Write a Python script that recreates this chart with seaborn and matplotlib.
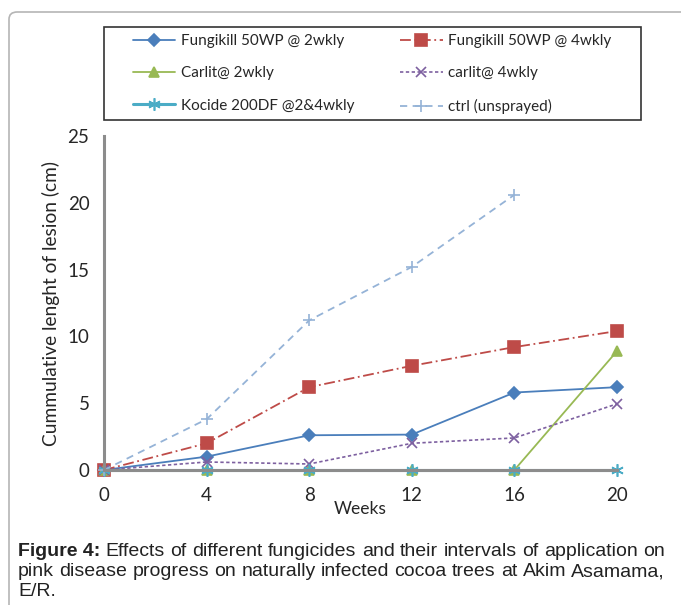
import matplotlib
matplotlib.use('Agg')
import numpy as np
import pandas as pd
import seaborn as sns
import matplotlib.pyplot as plt
from matplotlib.patches import FancyBboxPatch, Rectangle

# datos
weeks = [0, 4, 8, 12, 16, 20]
fungikill_2wk = [0, 1.0, 2.6, 2.65, 5.8, 6.2]
fungikill_4wk = [0, 2.0, 6.2, 7.8, 9.2, 10.4]
carlit_2wk = [0, 0, 0, 0, 0, 8.9]
carlit_4wk = [0, 0.6, 0.45, 2.0, 2.4, 4.95]
kocide = [0, 0, 0, 0, 0, 0]
ctrl = [0, 3.8, 11.2, 15.2, 20.6, np.nan]

series = [
    ("Fungikill 50WP @ 2wkly", fungikill_2wk, "#4A7EBB", "-", "D", 6, 1.3),
    ("Fungikill 50WP @ 4wkly", fungikill_4wk, "#BE4B48", (0, (6, 2, 1, 2)), "s", 8, 1.3),
    ("Carlit@ 2wkly", carlit_2wk, "#98B954", "-", "^", 7, 1.3),
    ("carlit@ 4wkly", carlit_4wk, "#7D60A0", (0, (2, 1.5)), "x", 7, 1.2),
    ("Kocide 200DF @2&4wkly", kocide, "#4BACC6", "-", (6, 2, 0), 9, 2.2),
    ("ctrl (unsprayed)", ctrl, "#95B3D7", (0, (4, 3)), "+", 9, 1.3),
]

sns.set_style("white")
plt.rcParams['font.family'] = ['Lato', 'DejaVu Sans']

fig = plt.figure(figsize=(6.81, 6.05), dpi=100)
ax = fig.add_axes([104 / 681, 1 - 470 / 605, 513 / 681, 334 / 605])

# marco exterior redondeado
marco = FancyBboxPatch((9 / 681, -0.1), 1.0, 1.1 - 12 / 605, transform=fig.transFigure,
                       boxstyle="round,pad=0,rounding_size=0.012", fc="none",
                       ec="#b5b5b5", lw=1.2, zorder=0)
fig.patches.append(marco)

for name, vals, col, ls, mk, ms, lw in series:
    df = pd.DataFrame({"x": weeks, "y": vals}).dropna()
    sns.lineplot(data=df, x="x", y="y", ax=ax, color=col, linestyle=ls, lw=lw,
                 marker=mk, markersize=ms, markeredgecolor=col, markerfacecolor=col,
                 markeredgewidth=1.2, label=name, clip_on=False, legend=False)

ax.set_xlim(0, 20)
ax.set_ylim(0, 25)
ax.set_xticks(weeks)
ax.set_yticks([0, 5, 10, 15, 20, 25])
for s in ["top", "right"]:
    ax.spines[s].set_visible(False)
ax.spines["left"].set_color("#8c8c8c")
ax.spines["left"].set_linewidth(2.2)
ax.spines["bottom"].set_color("#8c8c8c")
ax.spines["bottom"].set_linewidth(2.2)
ax.tick_params(axis="y", direction="inout", length=9, width=2, color="#8c8c8c",
               labelsize=13.5, pad=6)
ax.tick_params(axis="x", direction="out", length=5, width=2, color="#8c8c8c",
               labelsize=13.5, pad=7)
ax.set_xlabel("Weeks", fontsize=12.5, labelpad=-2)
ax.set_ylabel("Cummulative lenght of lesion (cm)", fontsize=13.8, labelpad=5)

# leyenda con marco dibujado aparte
caja = Rectangle((104 / 681, 1 - 120 / 605), 537 / 681, 93 / 605, transform=fig.transFigure,
                 fc="white", ec="#333333", lw=1.2, zorder=1)
fig.patches.append(caja)
handles, labels = ax.get_legend_handles_labels()
orden = [0, 2, 4, 1, 3, 5]
leg = fig.legend([handles[i] for i in orden], [labels[i] for i in orden], ncol=2,
                 loc="center", bbox_to_anchor=(372 / 681, 1 - 74 / 605),
                 fontsize=11, frameon=False, handlelength=2.8, labelspacing=1.2,
                 handletextpad=0.35, columnspacing=3.0, borderaxespad=0)

# pie de figura, justificado a mano
cap_font = ['Liberation Sans', 'DejaVu Sans']
lineas = [
    ["Figure 4:", "Effects", "of", "different", "fungicides", "and", "their", "intervals",
     "of", "application", "on"],
    "pink disease progress on naturally infected cocoa trees at Akim Asamama,".split(" "),
    ["E/R."],
]
ys = [552, 572, 592]
x0, x1 = 18, 665
renderer = fig.canvas.get_renderer()
for k, (palabras, yp) in enumerate(zip(lineas, ys)):
    textos = []
    for j, p in enumerate(palabras):
        negrita = "bold" if (k == 0 and j == 0) else "normal"
        t = fig.text(0, 1 - yp / 605, p, fontsize=14, va="center", family=cap_font,
                     weight=negrita, color="#222222")
        textos.append(t)
    anchos = [t.get_window_extent(renderer).width for t in textos]
    if len(textos) > 1:
        hueco = (x1 - x0 - sum(anchos)) / (len(textos) - 1)
    else:
        hueco = 4
    xp = x0
    for t, w in zip(textos, anchos):
        t.set_x(xp / 681)
        xp += w + hueco

plt.savefig("out.png", dpi=100)
